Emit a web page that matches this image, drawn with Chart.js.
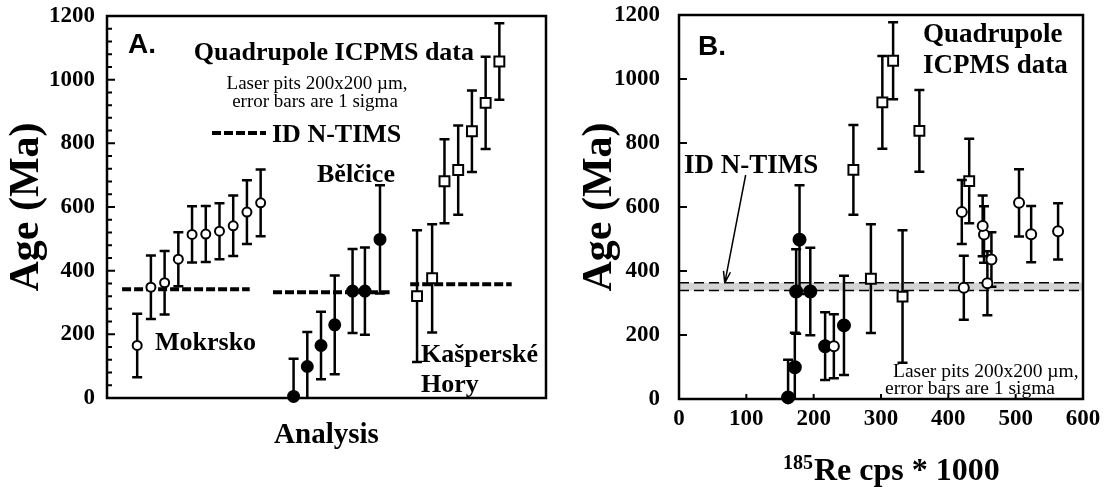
<!DOCTYPE html>
<html>
<head>
<meta charset="utf-8">
<script src="https://cdn.jsdelivr.net/npm/chart.js@4"></script>
<style>
  html, body { margin: 0; padding: 0; background: #fff; }
  #wrap { position: relative; width: 1105px; height: 487px; }
  #chartA { position: absolute; left: 0; top: 0; }
  #chartB { position: absolute; left: 560px; top: 0; }
</style>
</head>
<body>
<div id="wrap">
  <canvas id="chartA" width="560" height="487"></canvas>
  <canvas id="chartB" width="545" height="487"></canvas>
</div>
<script>
// --- 数据 ---
// Mokrsko (open circles)
const mokAge = [165, 348, 362, 436, 514, 515, 524, 541, 584, 613];
const mokErr = [100, 100, 100, 85, 88, 88, 88, 95, 100, 105];
const mokPos = [2.2, 3.2, 4.2, 5.2, 6.2, 7.2, 8.2, 9.2, 10.2, 11.2];
const mokCps = [230, 423, 458, 464, 453, 523, 563, 451, 420, 505];

// Bělčice (filled circles)
const belAge = [5, 99, 165, 230, 336, 336, 498];
const belErr = [118, 108, 106, 155, 132, 137, 170];
const belPos = [13.6, 14.6, 15.6, 16.6, 17.9, 18.8, 19.9];
const belCps = [162, 172, 217, 245, 174, 195, 179];

// Kašperské Hory (open squares)
const kasAge = [320, 376, 681, 716, 838, 927, 1057];
const kasErr = [207, 170, 132, 140, 128, 145, 120];
const kasPos = [22.6, 23.7, 24.6, 25.6, 26.6, 27.6, 28.6];
const kasCps = [332, 285, 431, 259, 357, 302, 318];

// ID N-TIMS ages
const timsMok = 342, timsBel = 332, timsKas = 357;
const timsMokSpan = [1.1, 10.4];
const timsBelSpan = [12.1, 20.6];
const timsKasSpan = [22.1, 29.5];
const timsBand = [339, 363];

const ageRange = [0, 1200];
const cpsRange = [0, 600];
const posRange = [0, 32];

const SERIF = "'Liberation Serif', 'Times New Roman', serif";
const SANS = "'Liberation Sans', Arial, sans-serif";

Chart.defaults.font.family = SERIF;
Chart.defaults.font.weight = 'bold';
Chart.defaults.color = '#000';

function pts(xs, ys) {
  return xs.map((x, i) => ({ x: x, y: ys[i] }));
}

function hline(span, y) {
  return [{ x: span[0], y: y }, { x: span[1], y: y }];
}

function markerSet(data, errs, style, radius, fill) {
  return {
    data: data, errors: errs,
    pointStyle: style, pointRadius: radius, pointHoverRadius: radius,
    pointBackgroundColor: fill, pointBorderColor: '#000', pointBorderWidth: 2,
    showLine: false, clip: false, order: 1
  };
}

function dashSet(data, width, dash, extra) {
  return Object.assign({
    data: data, showLine: true, pointRadius: 0, borderColor: '#000',
    borderWidth: width, borderDash: dash, fill: false, clip: false, order: 5
  }, extra || {});
}

// 误差棒 — 在每个数据集之前画
const errorBars = {
  id: 'errorBars',
  beforeDatasetDraw(chart, args) {
    const ds = chart.data.datasets[args.index];
    if (!ds.errors) return;
    const { ctx, chartArea: a, scales: { x, y } } = chart;
    ctx.save();
    ctx.beginPath();
    ctx.rect(a.left, 0, a.width, a.bottom);
    ctx.clip();
    ctx.strokeStyle = '#000';
    ctx.lineWidth = 2.5;
    ds.data.forEach((p, i) => {
      const e = ds.errors[i];
      const px = x.getPixelForValue(p.x);
      const top = y.getPixelForValue(p.y + e);
      const bot = y.getPixelForValue(p.y - e);
      ctx.beginPath();
      ctx.moveTo(px, top); ctx.lineTo(px, bot);
      ctx.moveTo(px - 5, top); ctx.lineTo(px + 5, top);
      if (p.y - e > 0) { ctx.moveTo(px - 5, bot); ctx.lineTo(px + 5, bot); }
      ctx.stroke();
    });
    ctx.restore();
  }
};

// 边框、内向刻度和文字
const frame = {
  id: 'frame',
  afterDraw(chart, args, opts) {
    const { ctx, chartArea: a, scales: { x, y } } = chart;
    ctx.save();
    ctx.strokeStyle = '#000';
    ctx.lineWidth = 2.5;
    ctx.strokeRect(a.left, a.top, a.width, a.height);
    ctx.lineWidth = 2;
    ctx.beginPath();
    for (let v = y.min; v <= y.max; v += opts.yMinor) {
      const py = y.getPixelForValue(v);
      const len = v % opts.yMajor === 0 ? 8 : 5;
      ctx.moveTo(a.left, py); ctx.lineTo(a.left + len, py);
    }
    if (opts.xStep) {
      for (let v = x.min + opts.xStep; v < x.max; v += opts.xStep) {
        const px = x.getPixelForValue(v);
        ctx.moveTo(px, a.bottom); ctx.lineTo(px, a.bottom - 5);
      }
    }
    ctx.stroke();
    ctx.fillStyle = '#000';
    ctx.textBaseline = 'alphabetic';
    (opts.texts || []).forEach(t => {
      ctx.font = t.font;
      ctx.textAlign = t.align || 'left';
      ctx.fillText(t.text, t.x, t.y);
    });
    if (opts.extra) opts.extra(ctx, chart);
    ctx.restore();
  }
};

// 刻度线本身透明，只用 tickLength 来推开标签
function hiddenGrid(len) {
  return { display: true, drawOnChartArea: false, drawTicks: true, tickLength: len, color: 'rgba(0,0,0,0)' };
}

function yScale(width, labelGap, titlePad) {
  return {
    type: 'linear', min: ageRange[0], max: ageRange[1],
    ticks: { stepSize: 200, padding: 0, font: { size: 23, weight: 'bold' }, color: '#000', callback: v => String(v) },
    grid: hiddenGrid(labelGap),
    border: { display: false },
    title: { display: true, text: 'Age (Ma)', color: '#000', font: { size: 42, weight: 'bold' }, padding: { top: titlePad, bottom: 0 } },
    afterFit(s) { s.width = width; }
  };
}

const baseOpts = {
  responsive: false, animation: false, devicePixelRatio: 1,
  plugins: { legend: { display: false }, tooltip: { enabled: false } },
  events: []
};

// --- A ---
new Chart(document.getElementById('chartA'), {
  type: 'scatter',
  data: {
    datasets: [
      markerSet(pts(mokPos, mokAge), mokErr, 'circle', 4.5, '#fff'),
      markerSet(pts(belPos, belAge), belErr, 'circle', 5.5, '#000'),
      markerSet(pts(kasPos, kasAge), kasErr, 'rect', 7, '#fff'),
      dashSet(hline(timsMokSpan, timsMok), 4, [9, 3]),
      dashSet(hline(timsBelSpan, timsBel), 4, [9, 3]),
      dashSet(hline(timsKasSpan, timsKas), 4, [9, 3])
    ]
  },
  options: Object.assign({}, baseOpts, {
    layout: { padding: { left: 0, right: 14, top: 16, bottom: 0 } },
    scales: {
      x: {
        type: 'linear', min: posRange[0], max: posRange[1],
        ticks: { display: false },
        grid: { display: false, drawTicks: false },
        border: { display: false },
        title: { display: true, text: 'Analysis', color: '#000', font: { size: 29, weight: 'bold' }, padding: { top: 0, bottom: 34 } },
        afterFit(s) { s.height = 89; }
      },
      y: yScale(107, 12, 2)
    },
    plugins: Object.assign({}, baseOpts.plugins, {
      frame: {
        yMinor: 40, yMajor: 200,
        texts: [
          { text: 'A.', x: 128, y: 53, font: 'bold 28px ' + SANS },
          { text: 'Quadrupole ICPMS data', x: 474, y: 60, align: 'right', font: 'bold 26px ' + SERIF },
          { text: 'Laser pits 200x200 µm,', x: 317, y: 89, align: 'center', font: '19px ' + SERIF },
          { text: 'error bars are 1 sigma', x: 315, y: 107, align: 'center', font: '19px ' + SERIF },
          { text: 'ID N-TIMS', x: 272, y: 142, font: 'bold 26px ' + SERIF },
          { text: 'Mokrsko', x: 155, y: 350, font: 'bold 26px ' + SERIF },
          { text: 'Bělčice', x: 317, y: 182, font: 'bold 26px ' + SERIF },
          { text: 'Kašperské', x: 421, y: 362, font: 'bold 26px ' + SERIF },
          { text: 'Hory', x: 421, y: 392, font: 'bold 26px ' + SERIF }
        ],
        extra(ctx) {
          // 图例虚线
          ctx.lineWidth = 4;
          ctx.setLineDash([9, 3]);
          ctx.beginPath();
          ctx.moveTo(212, 133); ctx.lineTo(266, 133);
          ctx.stroke();
          ctx.setLineDash([]);
        }
      }
    })
  }),
  plugins: [errorBars, frame]
});

// --- B ---
new Chart(document.getElementById('chartB'), {
  type: 'scatter',
  data: {
    datasets: [
      markerSet(pts(mokCps, mokAge), mokErr, 'circle', 5, '#fff'),
      markerSet(pts(belCps, belAge), belErr, 'circle', 6, '#000'),
      markerSet(pts(kasCps, kasAge), kasErr, 'rect', 7, '#fff'),
      dashSet(hline(cpsRange, timsBand[1]), 1.5, [10, 5], { fill: '+1', backgroundColor: 'rgba(0,0,0,0.17)', order: 6 }),
      dashSet(hline(cpsRange, timsBand[0]), 1.5, [10, 5], { order: 6 })
    ]
  },
  options: Object.assign({}, baseOpts, {
    layout: { padding: { left: 0, right: 22, top: 15, bottom: 0 } },
    scales: {
      x: {
        type: 'linear', min: cpsRange[0], max: cpsRange[1],
        ticks: { stepSize: 100, padding: 0, maxRotation: 0, autoSkip: false, font: { size: 23, weight: 'bold' }, color: '#000', callback: v => String(v) },
        grid: hiddenGrid(6),
        border: { display: false },
        title: { display: false },
        afterFit(s) { s.height = 88; }
      },
      y: yScale(119, 19, 15)
    },
    plugins: Object.assign({}, baseOpts.plugins, {
      frame: {
        yMinor: 200, yMajor: 200, xStep: 100,
        texts: [
          { text: 'B.', x: 138, y: 55, font: 'bold 28px ' + SANS },
          { text: 'Quadrupole', x: 363, y: 42, font: 'bold 27px ' + SERIF },
          { text: 'ICPMS data', x: 363, y: 73, font: 'bold 27px ' + SERIF },
          { text: 'ID N-TIMS', x: 124, y: 173, font: 'bold 27px ' + SERIF },
          { text: 'Laser pits 200x200 µm,', x: 333, y: 377, font: '19.5px ' + SERIF },
          { text: 'error bars are 1 sigma', x: 325, y: 394, font: '19.5px ' + SERIF }
        ],
        extra(ctx, chart) {
          const { x, y } = chart.scales;
          // 箭头
          const x0 = x.getPixelForValue(99), y0 = y.getPixelForValue(700);
          const x1 = x.getPixelForValue(68), y1 = y.getPixelForValue(363);
          ctx.lineWidth = 1.5;
          ctx.beginPath();
          ctx.moveTo(x0, y0); ctx.lineTo(x1, y1);
          const ang = Math.atan2(y1 - y0, x1 - x0);
          ctx.moveTo(x1, y1); ctx.lineTo(x1 - 12 * Math.cos(ang - 0.3), y1 - 12 * Math.sin(ang - 0.3));
          ctx.moveTo(x1, y1); ctx.lineTo(x1 - 12 * Math.cos(ang + 0.3), y1 - 12 * Math.sin(ang + 0.3));
          ctx.stroke();
          // x 轴标题（带上标）
          ctx.textAlign = 'left';
          ctx.font = 'bold 20px ' + SERIF;
          ctx.fillText('185', 223, 469);
          const w = ctx.measureText('185').width;
          ctx.font = 'bold 32px ' + SERIF;
          ctx.fillText('Re cps * 1000', 223 + w + 1, 480);
        }
      }
    })
  }),
  plugins: [errorBars, frame]
});
</script>
</body>
</html>
